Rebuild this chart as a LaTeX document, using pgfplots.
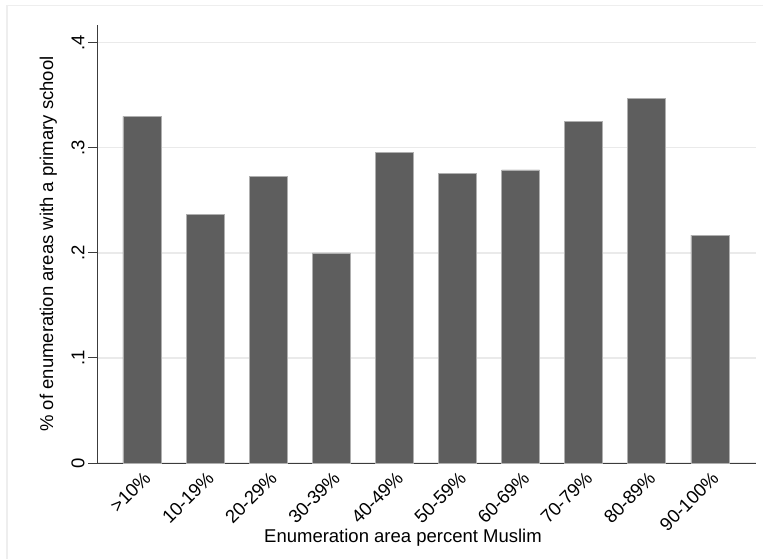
\documentclass[border=0pt]{standalone}
\usepackage{pgfplots}
\pgfplotsset{compat=1.18}
\usepackage{fontspec}
\setmainfont{Liberation Sans}

\definecolor{barfill}{RGB}{94,94,94}
\definecolor{barline}{RGB}{175,175,175}
\definecolor{gridc}{RGB}{234,234,234}
\definecolor{framec}{RGB}{238,238,238}
\definecolor{axisc}{RGB}{60,60,60}

\pgfplotstableread{
x  share
0  0.330
1  0.237
2  0.273
3  0.200
4  0.296
5  0.276
6  0.279
7  0.325
8  0.347
9  0.217
}\schooldata

\newcommand{\lblfont}{\fontsize{18.5bp}{20bp}\selectfont}

\begin{document}
\begin{tikzpicture}
\useasboundingbox (0,0) rectangle (763bp,-559bp);
\clip (0,0) rectangle (763bp,-559bp);
\fill[white] (0,0) rectangle (763bp,-559bp);
\draw[framec, line width=1.5bp] (7bp,-5.5bp) rectangle (800bp,-600bp);
\begin{axis}[
  at={(97bp,-463bp)}, anchor=south west,
  scale only axis, width=659bp, height=438bp,
  xmin=-0.713, xmax=9.73, ymin=0, ymax=0.417,
  axis lines=left,
  axis line style={-, axisc, line width=1bp},
  xtick={0,...,9},
  xticklabels={{>10\%},{10-19\%},{20-29\%},{30-39\%},{40-49\%},{50-59\%},{60-69\%},{70-79\%},{80-89\%},{90-100\%}},
  xtick style={draw=none},
  ytick={0,0.1,0.2,0.3,0.4},
  yticklabels={0,.1,.2,.3,.4},
  tick align=outside,
  major tick length=9bp,
  ytick style={axisc, line width=1bp},
  ymajorgrids,
  grid style={gridc, line width=1.2bp},
  xticklabel style={rotate=45, anchor=east, font=\lblfont, xshift=5bp, yshift=-6bp},
  yticklabel style={rotate=90, anchor=south, font=\lblfont},
]
\addplot[ybar, bar width=38bp, fill=barfill, draw=barline, line width=0.7bp]
  table[x=x, y=share] {\schooldata};
\end{axis}
\node[rotate=90, anchor=base, font=\lblfont] at (53bp,-244bp) {\% of enumeration areas with a primary school};
\node[anchor=base, font=\lblfont] at (403bp,-542bp) {Enumeration area percent Muslim};
\end{tikzpicture}
\end{document}
